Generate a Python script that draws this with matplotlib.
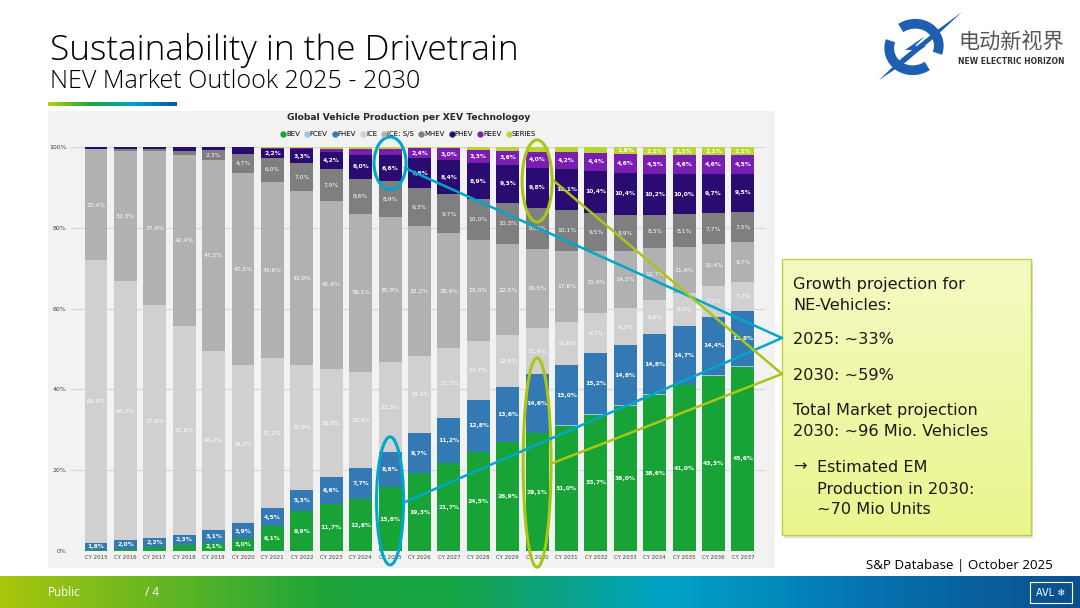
import numpy as np
import matplotlib
matplotlib.use("Agg")
import matplotlib.pyplot as plt
from matplotlib import font_manager
from matplotlib.colors import LinearSegmentedColormap
from matplotlib.patches import Ellipse, Rectangle, Polygon, Arc, ConnectionPatch
from matplotlib.lines import Line2D

plt.rcParams['font.family'] = ['DejaVu Sans']

# data: share of global vehicle production per technology (%)
years = ["CY %d" % y for y in range(2015, 2038)]
bev = [0.3, 0.6, 1.0, 1.6, 2.1, 3.0, 6.1, 9.9, 11.7, 12.8, 15.8, 19.3, 21.7, 24.5, 26.9, 29.1, 31.0, 33.7, 36.0, 38.6, 41.0, 43.3, 45.6]
fcev = [0, 0, 0, 0, 0, 0, 0, 0, 0, 0, 0, 0.1, 0.1, 0.1, 0.1, 0.1, 0.1, 0.2, 0.1, 0.2, 0.1, 0.3, 0.1]
fhev = [1.8, 2.0, 2.2, 2.3, 3.1, 3.9, 4.5, 5.3, 6.6, 7.7, 8.6, 9.7, 11.2, 12.8, 13.6, 14.6, 15.0, 15.2, 14.8, 14.8, 14.7, 14.4, 13.8]
ice = [69.9, 64.2, 57.8, 51.8, 44.2, 39.2, 37.2, 30.9, 26.8, 23.9, 22.3, 19.2, 17.2, 14.7, 12.8, 11.4, 10.6, 9.7, 9.2, 8.6, 8.0, 7.5, 7.2]
ice_ss = [27.4, 32.3, 37.9, 42.4, 47.5, 47.5, 43.6, 43.0, 41.6, 39.1, 35.9, 32.2, 28.4, 25.0, 22.5, 19.5, 17.6, 15.4, 14.2, 12.7, 11.4, 10.4, 9.7]
mhev = [0.2, 0.4, 0.5, 1.0, 2.3, 4.7, 6.0, 7.0, 7.9, 8.6, 8.9, 9.3, 9.7, 10.0, 10.3, 10.3, 10.1, 9.5, 8.9, 8.3, 8.1, 7.7, 7.5]
phev = [0.4, 0.5, 0.6, 0.9, 0.8, 1.7, 2.2, 3.3, 4.2, 6.0, 6.6, 7.5, 8.4, 8.9, 9.3, 9.8, 10.1, 10.4, 10.4, 10.2, 10.0, 9.7, 9.5]
reev = [0, 0, 0, 0, 0, 0, 0.2, 0.3, 0.8, 1.4, 1.5, 2.4, 3.0, 3.3, 3.6, 4.0, 4.2, 4.4, 4.6, 4.5, 4.6, 4.6, 4.5]
series = [0, 0, 0, 0, 0, 0, 0.2, 0.3, 0.4, 0.5, 0.4, 0.3, 0.3, 0.7, 0.9, 1.2, 1.3, 1.5, 1.9, 2.1, 2.1, 2.1, 2.1]

names = ["BEV", "FCEV", "FHEV", "ICE", "ICE: S/S", "MHEV", "PHEV", "REEV", "SERIES"]
values = [bev, fcev, fhev, ice, ice_ss, mhev, phev, reev, series]
colors = ["#17a335", "#9dc3e6", "#3379b3", "#d0d0d0", "#b1b1b1", "#7f7f7f", "#2a0b72", "#7a1db2", "#b9d530"]

avail = {f.name for f in font_manager.fontManager.ttflist}
if 'Liberation Sans Narrow' in avail:
    narrow, nweight = 'Liberation Sans Narrow', 'normal'
elif 'Open Sans' in avail:
    narrow, nweight = 'Open Sans', 'light'
else:
    narrow, nweight = 'DejaVu Sans', 'normal'

fig = plt.figure(figsize=(10.8, 6.08), dpi=100)
fig.patch.set_facecolor('white')

# full-figure axes in pixel units for slide decoration
bg = fig.add_axes([0, 0, 1, 1], zorder=0)
bg.set_xlim(0, 1080)
bg.set_ylim(608, 0)
bg.axis('off')

renderer = fig.canvas.get_renderer()


def fit_text(ax_, x, y, s, width, **kw):
    t = ax_.text(x, y, s, **kw)
    w = t.get_window_extent(renderer=renderer).width
    t.set_fontsize(t.get_fontsize() * width / w)
    return t


# slide titles
fit_text(bg, 50, 50, "Sustainability in the Drivetrain", 472, fontsize=24,
         family=narrow, fontweight=nweight, va='center', ha='left', color='black')
fit_text(bg, 50, 82, "NEV Market Outlook 2025 - 2030", 370, fontsize=16,
         family=narrow, fontweight=nweight, va='center', ha='left', color='black')
line_cmap = LinearSegmentedColormap.from_list('ln', ["#b6d012", "#1aa63c", "#00a5c8", "#0a58a0"])
bg.imshow(np.linspace(0, 1, 200)[None, :], extent=[48, 177, 106, 102], cmap=line_cmap,
          aspect='auto', zorder=1)

# chart panel
bg.add_patch(Rectangle((48, 111), 727, 457, facecolor='#f2f2f2', edgecolor='none', zorder=1))

# logo
bg.add_patch(Arc((914, 47), 50, 46, angle=-20, theta1=75, theta2=215, color='#1f5fb2', lw=7, zorder=3))
bg.add_patch(Arc((914, 47), 50, 46, angle=-20, theta1=255, theta2=395, color='#1f5fb2', lw=7, zorder=3))
bg.add_patch(Polygon([[962, 12], [934, 38], [906, 62], [879, 80], [902, 58], [932, 34]],
                     closed=True, facecolor='#1f5fb2', edgecolor='none', zorder=3))
bg.add_patch(Polygon([[925, 36], [905, 50], [916, 50], [902, 62], [926, 46], [915, 46]],
                     closed=True, facecolor='#1f5fb2', edgecolor='none', zorder=3))
fit_text(bg, 958, 42, "电动新视界", 106, fontsize=14, family=['Noto Sans CJK SC', 'DejaVu Sans'],
         va='center', ha='left', color='#555555')
fit_text(bg, 958, 62, "NEW ELECTRIC HORIZON", 106, fontsize=5.5, fontweight='bold',
         va='center', ha='left', color='#333333')

# footer
foot_cmap = LinearSegmentedColormap.from_list('ft', [(0, "#a9c60c"), (0.3, "#1da53a"), (0.42, "#16a446"),
                                                    (0.62, "#00a3c9"), (0.8, "#0574b2"), (1, "#0b4f8e")])
bg.imshow(np.linspace(0, 1, 400)[None, :], extent=[0, 1080, 608, 576], cmap=foot_cmap,
          aspect='auto', zorder=1)
bg.text(48, 593, "Public", fontsize=8.5, family=narrow, color='white', va='center', ha='left', zorder=2)
bg.text(145, 593, "/ 4", fontsize=8.5, family=narrow, color='white', va='center', ha='left', zorder=2)
bg.add_patch(Rectangle((1030, 582), 42, 21, facecolor='none', edgecolor='white', lw=0.8, zorder=2))
bg.text(1051, 593, "AVL ❄", fontsize=7, color='white', va='center', ha='center', zorder=2)
fit_text(bg, 1053, 566, "S&P Database | October 2025", 187, fontsize=10, family=narrow,
         va='center', ha='right', color='black')

# callout box
bg.add_patch(Rectangle((784, 262), 249, 276, facecolor='#cccccc', edgecolor='none', zorder=2, alpha=0.6))
box_cmap = LinearSegmentedColormap.from_list('bx', ["#f4fac2", "#ebf58e"])
bg.imshow(np.linspace(0, 1, 100)[:, None], extent=[782, 1031, 535, 259], cmap=box_cmap,
          aspect='auto', zorder=3)
bg.add_patch(Rectangle((782, 259), 249, 276, facecolor='none', edgecolor='#b9d23e', lw=1, zorder=4))
box_lines = [("Growth projection for", 793, 284), ("NE-Vehicles:", 793, 306),
             ("2025: ~33%", 793, 340), ("2030: ~59%", 793, 375),
             ("Total Market projection", 793, 411), ("2030: ~96 Mio. Vehicles", 793, 432),
             ("→", 793, 467), ("Estimated EM", 817, 467), ("Production in 2030:", 817, 489),
             ("~70 Mio Units", 817, 510)]
for s, x, y in box_lines:
    bg.text(x, y, s, fontsize=11.6, color='#1a1a1a', va='center', ha='left', zorder=5)

# chart title and legend
bg.text(409, 118, "Global Vehicle Production per XEV Technologoy", fontsize=6.6,
        fontweight='bold', color='#262626', ha='center', va='center', zorder=2)

# stacked bar chart
ax = fig.add_axes([71 / 1080, 57 / 608, 694 / 1080, 404 / 608], zorder=1)
ax.set_facecolor('none')
x = np.arange(len(years))
bottom = np.zeros(len(years))
for name, vals, col in zip(names, values, colors):
    vals = np.array(vals)
    ax.bar(x, vals, bottom=bottom, width=0.78, color=col, linewidth=0, label=name, zorder=2)
    for xi, b, v in zip(x, bottom, vals):
        if v >= 1.8:
            bold = name not in ("ICE", "ICE: S/S", "MHEV")
            ax.text(xi, b + v / 2, ("%.1f%%" % v).replace('.', ','), ha='center', va='center',
                    fontsize=4.3, color='white', fontweight='bold' if bold else 'normal', zorder=3)
    bottom += vals

ax.set_xlim(-0.85, 22.75)
ax.set_ylim(0, 100)
ax.set_xticks(x)
ax.set_xticklabels(years, fontsize=4, color='#404040')
ax.set_yticks(np.arange(0, 101, 20))
ax.set_yticklabels(["%d%%" % v for v in range(0, 101, 20)], fontsize=4.5, color='#404040')
ax.tick_params(length=0, pad=3)
ax.grid(axis='y', color='#d6d6d6', lw=0.8, zorder=0)
for sp in ax.spines.values():
    sp.set_visible(False)

handles = [Line2D([], [], marker='o', ls='', color=c, markersize=3.5) for c in colors]
ax.legend(handles, names, ncol=9, fontsize=5, frameon=False, handletextpad=0.05,
          columnspacing=0.6, handlelength=0.8, loc='center',
          bbox_to_anchor=(408 / 1080, 1 - 134 / 608), bbox_transform=fig.transFigure)

# highlight ellipses for 2025 and 2030
cyan = '#00a7cc'
lime = '#a9c616'
i25 = years.index("CY 2025")
i30 = years.index("CY 2030")
ax.add_patch(Ellipse((i25, 96), 1.09, 13, fill=False, edgecolor=cyan, lw=2.2, clip_on=False, zorder=5))
ax.add_patch(Ellipse((i25, 12.4), 0.92, 31.7, fill=False, edgecolor=cyan, lw=2.2, clip_on=False, zorder=5))
ax.add_patch(Ellipse((i30, 91.6), 1.02, 20.3, fill=False, edgecolor=lime, lw=2.2, clip_on=False, zorder=5))
ax.add_patch(Ellipse((i30, 21.9), 0.95, 51.8, fill=False, edgecolor=lime, lw=2.2, clip_on=False, zorder=5))

for (xa, ya), target, col in [((i25 + 0.5, 94.8), (782, 338), cyan),
                              ((i25 + 0.5, 12.1), (782, 338), cyan),
                              ((i30 + 0.54, 91.8), (782, 374), lime),
                              ((i30 + 0.54, 21.8), (782, 374), lime)]:
    con = ConnectionPatch(xyA=(xa, ya), coordsA='data', axesA=ax,
                          xyB=target, coordsB='data', axesB=bg, color=col, lw=1.8, zorder=6)
    fig.add_artist(con)

plt.savefig("out.png", dpi=100)
